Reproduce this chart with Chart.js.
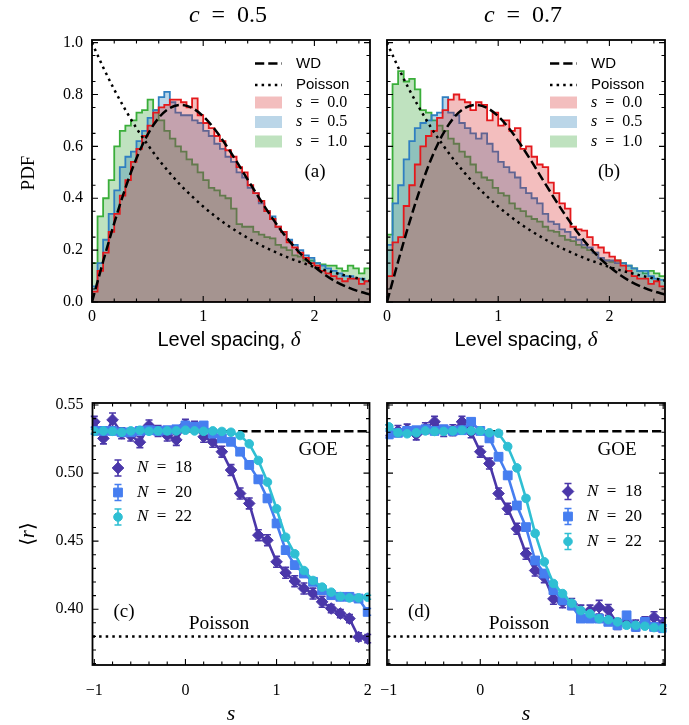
<!DOCTYPE html>
<html>
<head>
<meta charset="utf-8">
<script src="https://cdn.jsdelivr.net/npm/chart.js@4.4.1/dist/chart.umd.min.js"></script>
<style>
  html, body { margin: 0; padding: 0; background: #fff; }
  #wrap { position: relative; width: 689px; height: 725px; overflow: hidden; background: #fff; }
  #wrap canvas { position: absolute; left: 0; top: 0; }
</style>
</head>
<body>
<div id="wrap">
  <canvas id="panelA" width="689" height="725"></canvas>
  <canvas id="panelB" width="689" height="725"></canvas>
  <canvas id="panelC" width="689" height="725"></canvas>
  <canvas id="panelD" width="689" height="725"></canvas>
</div>
<script>
// ---------- level-spacing histograms, bins of width 0.05 starting at 0 ----------
const BIN_WIDTH = 0.05;

// c = 0.5
const pdfC05S00 = [0.04,0.12,0.19,0.27,0.34,0.41,0.47,0.54,0.59,0.64,
                   0.68,0.73,0.75,0.76,0.78,0.78,0.77,0.75,0.785,0.72,
                   0.69,0.67,0.64,0.62,0.585,0.56,0.52,0.50,0.45,0.42,
                   0.39,0.35,0.32,0.29,0.27,0.23,0.21,0.19,0.17,0.15,
                   0.14,0.12,0.11,0.10,0.09,0.08,0.09,0.09,0.07,0.08];
const pdfC05S05 = [0.06,0.15,0.24,0.34,0.43,0.52,0.56,0.58,0.62,0.66,
                   0.71,0.74,0.79,0.81,0.77,0.73,0.72,0.72,0.70,0.69,
                   0.66,0.64,0.61,0.59,0.56,0.54,0.50,0.48,0.44,0.42,
                   0.38,0.35,0.33,0.29,0.27,0.24,0.22,0.20,0.18,0.17,
                   0.15,0.14,0.13,0.12,0.11,0.10,0.10,0.09,0.09,0.08];
const pdfC05S10 = [0.15,0.33,0.40,0.47,0.60,0.66,0.68,0.70,0.73,0.74,
                   0.78,0.74,0.70,0.66,0.63,0.60,0.58,0.55,0.53,0.50,
                   0.47,0.44,0.43,0.41,0.40,0.36,0.30,0.29,0.29,0.27,
                   0.26,0.25,0.245,0.22,0.21,0.20,0.18,0.175,0.16,0.16,
                   0.15,0.145,0.14,0.14,0.13,0.12,0.14,0.13,0.11,0.13];

// c = 0.7
const pdfC07S00 = [0.10,0.23,0.25,0.37,0.45,0.53,0.60,0.64,0.66,0.71,
                   0.74,0.78,0.80,0.78,0.77,0.74,0.77,0.76,0.70,0.73,
                   0.68,0.70,0.66,0.67,0.59,0.60,0.56,0.53,0.52,0.46,
                   0.42,0.38,0.36,0.29,0.28,0.275,0.25,0.22,0.21,0.19,
                   0.175,0.16,0.14,0.12,0.10,0.09,0.09,0.07,0.08,0.06];
const pdfC07S05 = [0.22,0.38,0.45,0.55,0.62,0.67,0.69,0.70,0.72,0.73,
                   0.79,0.73,0.72,0.69,0.67,0.65,0.63,0.65,0.61,0.58,
                   0.54,0.52,0.50,0.48,0.44,0.42,0.40,0.38,0.34,0.31,
                   0.30,0.28,0.27,0.25,0.24,0.22,0.21,0.19,0.17,0.16,
                   0.16,0.15,0.15,0.14,0.13,0.12,0.12,0.10,0.09,0.085];
const pdfC07S10 = [0.26,0.84,0.89,0.85,0.86,0.82,0.74,0.73,0.70,0.68,
                   0.66,0.63,0.61,0.58,0.56,0.53,0.50,0.48,0.47,0.44,
                   0.42,0.41,0.38,0.36,0.35,0.33,0.32,0.31,0.29,0.275,
                   0.27,0.255,0.24,0.235,0.22,0.21,0.20,0.19,0.17,0.16,
                   0.155,0.16,0.15,0.14,0.13,0.12,0.11,0.12,0.11,0.10];

// reference curves sampled along δ
const refDelta   = [0.0,0.1,0.2,0.3,0.4,0.5,0.6,0.7,0.8,0.9,1.0,1.1,1.2,1.3,1.4,1.5,1.6,1.7,1.8,1.9,2.0,2.1,2.2,2.3,2.4,2.5];
const wdPdf      = [0.000,0.156,0.304,0.439,0.554,0.645,0.710,0.748,0.760,0.748,0.716,0.668,0.608,0.542,0.472,0.403,0.337,0.276,0.222,0.175,0.136,0.103,0.077,0.057,0.041,0.029];
const poissonPdf = [1.000,0.905,0.819,0.741,0.670,0.607,0.549,0.497,0.449,0.407,0.368,0.333,0.301,0.273,0.247,0.223,0.202,0.183,0.165,0.150,0.135,0.122,0.111,0.100,0.091,0.082];

// ---------- mean gap ratio <r> versus s ----------
const sValues = [-1.0,-0.9,-0.8,-0.7,-0.6,-0.5,-0.4,-0.3,-0.2,-0.1,0.0,0.1,0.2,0.3,0.4,0.5,
                 0.6,0.7,0.8,0.9,1.0,1.1,1.2,1.3,1.4,1.5,1.6,1.7,1.8,1.9,2.0];

// c = 0.5
const rC05N18 = [0.5377,0.5255,0.5391,0.5293,0.5276,0.5227,0.5350,0.5310,0.5276,0.5244,0.5355,0.5340,0.5267,0.5230,0.5157,0.5022,
                 0.4850,0.4777,0.4544,0.4507,0.4348,0.4267,0.4206,0.4152,0.4115,0.4054,0.4005,0.3968,0.3931,0.3796,0.3784];
const rC05N20 = [0.5310,0.5310,0.5310,0.5300,0.5300,0.5310,0.5315,0.5310,0.5315,0.5322,0.5350,0.5340,0.5350,0.5290,0.5255,0.5230,
                 0.5157,0.5060,0.4954,0.4814,0.4630,0.4434,0.4324,0.4262,0.4201,0.4140,0.4103,0.4091,0.4091,0.4078,0.3980];
const rC05N22 = [0.5307,0.5310,0.5307,0.5300,0.5310,0.5315,0.5307,0.5310,0.5310,0.5310,0.5315,0.5310,0.5307,0.5310,0.5306,0.5300,
                 0.5276,0.5215,0.5093,0.4934,0.4738,0.4529,0.4407,0.4284,0.4211,0.4162,0.4125,0.4093,0.4083,0.4083,0.4088];
const errC05N18 = [0.004,0.004,0.005,0.004,0.004,0.004,0.004,0.004,0.004,0.004,0.004,0.004,0.004,0.004,0.004,0.004,
                   0.004,0.004,0.004,0.004,0.004,0.004,0.004,0.004,0.004,0.004,0.003,0.003,0.003,0.003,0.003];
const errC05N20 = [0.0025,0.0025,0.0025,0.0025,0.0025,0.0025,0.0025,0.0025,0.0025,0.0025,0.0025,0.0025,0.0025,0.0025,0.0025,0.0025,
                   0.0025,0.0025,0.0025,0.0025,0.0025,0.0025,0.0025,0.0025,0.0025,0.0025,0.0025,0.0025,0.0025,0.0025,0.0025];
const errC05N22 = [0.0015,0.0015,0.0015,0.0015,0.0015,0.0015,0.0015,0.0015,0.0015,0.0015,0.0015,0.0015,0.0015,0.0015,0.0015,0.0015,
                   0.0015,0.0015,0.0015,0.0015,0.0015,0.0015,0.0015,0.0015,0.0015,0.0015,0.0015,0.0015,0.0015,0.0015,0.0015];

// c = 0.7
const rC07N18 = [0.5315,0.5310,0.5320,0.5284,0.5330,0.5377,0.5310,0.5315,0.5377,0.5300,0.5157,0.5070,0.4850,0.4738,0.4591,0.4407,
                 0.4284,0.4235,0.4076,0.4051,0.4039,0.3990,0.3990,0.4015,0.3995,0.3892,0.3904,0.3880,0.3904,0.3941,0.3897];
const rC07N20 = [0.5284,0.5296,0.5310,0.5315,0.5322,0.5310,0.5322,0.5310,0.5315,0.5377,0.5310,0.5255,0.5120,0.4983,0.4762,0.4603,
                 0.4358,0.4262,0.4140,0.4066,0.4027,0.3931,0.3931,0.3931,0.3907,0.3882,0.3955,0.3870,0.3907,0.3870,0.3860];
const rC07N22 = [0.5340,0.5296,0.5289,0.5296,0.5310,0.5306,0.5306,0.5310,0.5315,0.5310,0.5310,0.5296,0.5293,0.5195,0.5038,0.4814,
                 0.4557,0.4348,0.4189,0.4115,0.4044,0.3990,0.3966,0.3930,0.3923,0.3907,0.3882,0.3882,0.3875,0.3865,0.3860];
const errC07N18 = [0.004,0.004,0.004,0.004,0.004,0.004,0.004,0.004,0.004,0.004,0.004,0.004,0.004,0.004,0.004,0.004,
                   0.004,0.004,0.004,0.004,0.004,0.004,0.004,0.005,0.004,0.004,0.004,0.004,0.004,0.004,0.004];
const errC07N20 = errC05N20;
const errC07N22 = errC05N22;

const goeRatio = 0.5307;
const poissonRatio = 0.380;

// ---------- axis ticks ----------
const deltaTicks = [0, 1, 2];
const pdfTicks   = [0.0, 0.2, 0.4, 0.6, 0.8, 1.0];
const sTicks     = [-1, 0, 1, 2];
const rTicks     = [0.40, 0.45, 0.50, 0.55];

// ---------- styling ----------
const W = 689, H = 725;
const Y_LABEL_BOX = 60, X_LABEL_BOX = 40;
const SERIF = '"Liberation Serif", "DejaVu Serif", serif';
const SANS  = '"Liberation Sans", "DejaVu Sans", sans-serif';
const RED_LINE = '#e4191c',  RED_FILL = 'rgba(214,39,40,0.30)';
const BLUE_LINE = '#2f7fc1', BLUE_FILL = 'rgba(31,119,180,0.30)';
const GREEN_LINE = '#3aae3a', GREEN_FILL = 'rgba(44,160,44,0.30)';
const N18_COLOR = '#4a37a9', N20_COLOR = '#467ef0', N22_COLOR = '#2fbfd3';
const DASH = [9.25, 4], DOT = [2.5, 4.1];

function range(a, b, step) {
  const out = [];
  for (let v = a; v <= b + 1e-9; v += step) out.push(Math.round(v * 1000) / 1000);
  return out;
}

// histogram outline: rises at δ = 0, steps at every bin edge, drops back at the last edge
function histPoints(values) {
  const pts = [{x: 0, y: 0}];
  values.forEach((v, i) => pts.push({x: i * BIN_WIDTH, y: v}));
  pts.push({x: values.length * BIN_WIDTH, y: 0});
  return pts;
}
function curvePoints(xs, ys) { return xs.map((x, i) => ({x, y: ys[i]})); }

// ---------- rich text helpers ----------
function fontStr(p, size) {
  return (p.it ? 'italic ' : '') + size + 'px ' + (p.sans ? SANS : SERIF);
}
function drawRich(ctx, parts, x, y, size, align) {
  ctx.save();
  ctx.textBaseline = 'middle';
  ctx.fillStyle = '#000';
  let total = 0;
  const widths = parts.map(p => { ctx.font = fontStr(p, p.size || size); const w = ctx.measureText(p.t).width; total += w; return w; });
  let cx = align === 'left' ? x : (align === 'right' ? x - total : x - total / 2);
  ctx.textAlign = 'left';
  parts.forEach((p, i) => { ctx.font = fontStr(p, p.size || size); ctx.fillText(p.t, cx, y); cx += widths[i]; });
  ctx.restore();
}
function drawRotated(ctx, parts, x, y, size) {
  ctx.save();
  ctx.translate(x, y);
  ctx.rotate(-Math.PI / 2);
  drawRich(ctx, parts, 0, 0, size, 'center');
  ctx.restore();
}

function drawMarker(ctx, style, x, y, r, color) {
  ctx.save();
  ctx.fillStyle = color; ctx.strokeStyle = color; ctx.lineWidth = 1;
  ctx.beginPath();
  if (style === 'rectRot') {
    ctx.moveTo(x, y - r); ctx.lineTo(x + r, y); ctx.lineTo(x, y + r); ctx.lineTo(x - r, y); ctx.closePath();
  } else if (style === 'rect') {
    const h = r * Math.SQRT1_2; ctx.rect(x - h, y - h, 2 * h, 2 * h);
  } else {
    ctx.arc(x, y, r, 0, Math.PI * 2);
  }
  ctx.fill(); ctx.stroke();
  ctx.restore();
}

// ---------- plugins ----------
const errorBarPlugin = {
  id: 'errorBars',
  beforeDatasetDraw(chart, args) {
    const ds = chart.data.datasets[args.index];
    if (!ds.errors) return;
    const {ctx} = chart, xs = chart.scales.x, ys = chart.scales.y;
    ctx.save();
    ctx.strokeStyle = ds.borderColor;
    ctx.lineWidth = 1.6;
    ctx.beginPath();
    ds.data.forEach((p, i) => {
      const e = ds.errors[i];
      const px = xs.getPixelForValue(p.x);
      const y1 = ys.getPixelForValue(p.y - e), y2 = ys.getPixelForValue(p.y + e);
      ctx.moveTo(px, y1); ctx.lineTo(px, y2);
      ctx.moveTo(px - 3.5, y1); ctx.lineTo(px + 3.5, y1);
      ctx.moveTo(px - 3.5, y2); ctx.lineTo(px + 3.5, y2);
    });
    ctx.stroke();
    ctx.restore();
  }
};

function framePlugin(tickCfg, decorate) {
  return {
    id: 'frame',
    afterDatasetsDraw(chart) {
      const {ctx, chartArea: a} = chart, xs = chart.scales.x, ys = chart.scales.y;
      ctx.save();
      ctx.strokeStyle = '#000';
      ctx.lineWidth = 1.1;
      ctx.beginPath();
      [[tickCfg.xMajor, 6], [tickCfg.xMinor, 3.5]].forEach(([vals, len]) => vals.forEach(v => {
        const px = xs.getPixelForValue(v);
        ctx.moveTo(px, a.bottom); ctx.lineTo(px, a.bottom - len);
        ctx.moveTo(px, a.top); ctx.lineTo(px, a.top + len);
      }));
      [[tickCfg.yMajor, 6], [tickCfg.yMinor, 3.5]].forEach(([vals, len]) => vals.forEach(v => {
        const py = ys.getPixelForValue(v);
        ctx.moveTo(a.left, py); ctx.lineTo(a.left + len, py);
        ctx.moveTo(a.right, py); ctx.lineTo(a.right - len, py);
      }));
      ctx.stroke();
      ctx.lineWidth = 1.8;
      ctx.strokeRect(a.left, a.top, a.right - a.left, a.bottom - a.top);
      ctx.restore();
      decorate(ctx, chart);
    }
  };
}

function makePanel(id, area, cfg) {
  const yBox = cfg.y.labels ? Y_LABEL_BOX : 0;
  return new Chart(document.getElementById(id), {
    type: 'line',
    data: {datasets: cfg.datasets},
    options: {
      responsive: false,
      animation: false,
      devicePixelRatio: 1,
      events: [],
      layout: {padding: {left: area.left - yBox, top: area.top, right: W - area.right, bottom: H - area.bottom - X_LABEL_BOX}},
      plugins: {legend: {display: false}, tooltip: {enabled: false}, title: {display: false}},
      elements: {point: {radius: 0}},
      scales: {
        x: {
          type: 'linear', min: cfg.x.min, max: cfg.x.max,
          grid: {display: false, drawTicks: false}, border: {display: false},
          afterFit(s) { s.height = X_LABEL_BOX; },
          afterBuildTicks(s) { s.ticks = cfg.x.ticks.map(v => ({value: v})); },
          ticks: {padding: cfg.x.pad, color: '#000', maxRotation: 0, autoSkip: false,
                  font: {family: SERIF, size: 16}, callback: cfg.x.fmt}
        },
        y: {
          type: 'linear', min: cfg.y.min, max: cfg.y.max,
          grid: {display: false, drawTicks: false}, border: {display: false},
          afterFit(s) { s.width = yBox; },
          afterBuildTicks(s) { s.ticks = cfg.y.ticks.map(v => ({value: v})); },
          ticks: {display: cfg.y.labels, padding: 9, color: '#000', autoSkip: false,
                  font: {family: SERIF, size: 16}, callback: cfg.y.fmt}
        }
      }
    },
    plugins: [errorBarPlugin, framePlugin(cfg.tickCfg, cfg.decorate)]
  });
}

const fmtSigned = v => (v < 0 ? '\u2212' + Math.abs(v) : String(v));

// ---------- histogram panels ----------
function histDatasets(s00, s05, s10) {
  return [
    {data: curvePoints(refDelta, wdPdf), borderColor: '#000', borderWidth: 2.5, borderDash: DASH,
     cubicInterpolationMode: 'monotone', fill: false},
    {data: curvePoints(refDelta, poissonPdf), borderColor: '#000', borderWidth: 2.5, borderDash: DOT,
     cubicInterpolationMode: 'monotone', fill: false},
    {data: histPoints(s00), stepped: 'before', borderColor: RED_LINE, backgroundColor: RED_FILL, borderWidth: 1.8, fill: 'origin'},
    {data: histPoints(s05), stepped: 'before', borderColor: BLUE_LINE, backgroundColor: BLUE_FILL, borderWidth: 1.8, fill: 'origin'},
    {data: histPoints(s10), stepped: 'before', borderColor: GREEN_LINE, backgroundColor: GREEN_FILL, borderWidth: 1.8, fill: 'origin'},
    {data: [{x: 0, y: 0}, {x: 2.5, y: 0}], borderColor: RED_LINE, borderWidth: 1.8, fill: false}
  ];
}

function histLegend(ctx, x0) {
  const sx = x0, ex = x0 + 27, tx = x0 + 41;
  ctx.save();
  ctx.strokeStyle = '#000'; ctx.lineWidth = 2.5;
  ctx.setLineDash(DASH); ctx.beginPath(); ctx.moveTo(sx, 63.5); ctx.lineTo(ex, 63.5); ctx.stroke();
  ctx.setLineDash(DOT);  ctx.beginPath(); ctx.moveTo(sx, 85); ctx.lineTo(ex, 85); ctx.stroke();
  ctx.setLineDash([]);
  [[RED_FILL, 102.5], [BLUE_FILL, 122], [GREEN_FILL, 141.5]].forEach(([c, y]) => {
    ctx.fillStyle = c; ctx.fillRect(sx, y - 6, ex - sx, 12);
  });
  ctx.restore();
  drawRich(ctx, [{t: 'WD', sans: true}], tx, 63.5, 15, 'left');
  drawRich(ctx, [{t: 'Poisson', sans: true}], tx, 85, 15, 'left');
  [['0.0', 102.5], ['0.5', 122], ['1.0', 141.5]].forEach(([v, y]) => {
    drawRich(ctx, [{t: 's', it: true}, {t: '\u2002=\u2002' + v}], tx, y, 16, 'left');
  });
}

const histTicks = {
  xMajor: deltaTicks, xMinor: range(0, 2.4, 0.2).filter(v => !deltaTicks.includes(v)),
  yMajor: pdfTicks, yMinor: range(0.05, 0.95, 0.1)
};

makePanel('panelA', {left: 92, top: 40, right: 370, bottom: 302}, {
  datasets: histDatasets(pdfC05S00, pdfC05S05, pdfC05S10),
  x: {min: 0, max: 2.5, ticks: deltaTicks, pad: 5, fmt: v => String(v)},
  y: {min: 0, max: 1.01, ticks: pdfTicks, labels: true, fmt: v => v.toFixed(1)},
  tickCfg: histTicks,
  decorate(ctx) {
    drawRich(ctx, [{t: 'c', it: true}, {t: '\u2002=\u20020.5'}], 228, 16, 24, 'center');
    drawRotated(ctx, [{t: 'PDF'}], 29, 173, 19);
    drawRich(ctx, [{t: 'Level spacing, ', sans: true}, {t: '\u03b4', it: true, size: 21}], 229, 340, 20, 'center');
    histLegend(ctx, 255);
    drawRich(ctx, [{t: '(a)'}], 315, 172, 19, 'center');
  }
});

makePanel('panelB', {left: 387, top: 40, right: 665, bottom: 302}, {
  datasets: histDatasets(pdfC07S00, pdfC07S05, pdfC07S10),
  x: {min: 0, max: 2.5, ticks: deltaTicks, pad: 5, fmt: v => String(v)},
  y: {min: 0, max: 1.01, ticks: pdfTicks, labels: false, fmt: v => v.toFixed(1)},
  tickCfg: histTicks,
  decorate(ctx) {
    drawRich(ctx, [{t: 'c', it: true}, {t: '\u2002=\u20020.7'}], 523, 16, 24, 'center');
    drawRich(ctx, [{t: 'Level spacing, ', sans: true}, {t: '\u03b4', it: true, size: 21}], 526, 340, 20, 'center');
    histLegend(ctx, 550);
    drawRich(ctx, [{t: '(b)'}], 609, 172, 19, 'center');
  }
});

// ---------- gap-ratio panels ----------
const S_MIN = -1.02, S_MAX = 2.02;
const MARKERS = {n18: ['rectRot', 5.8], n20: ['rect', 6.2], n22: ['circle', 4.3]};
function ratioDatasets(r18, r20, r22, e18, e20, e22) {
  const series = (r, e, color, [style, rad]) => ({
    data: curvePoints(sValues, r), errors: e, borderColor: color, backgroundColor: color,
    borderWidth: 2.6, pointStyle: style, pointRadius: rad, pointBorderWidth: 1, fill: false
  });
  return [
    series(r22, e22, N22_COLOR, MARKERS.n22),
    series(r20, e20, N20_COLOR, MARKERS.n20),
    series(r18, e18, N18_COLOR, MARKERS.n18),
    {data: [{x: S_MIN, y: goeRatio}, {x: S_MAX, y: goeRatio}], borderColor: '#000', borderWidth: 2.5, borderDash: DASH, fill: false},
    {data: [{x: S_MIN, y: poissonRatio}, {x: S_MAX, y: poissonRatio}], borderColor: '#000', borderWidth: 2.5, borderDash: DOT, fill: false}
  ];
}

function ratioLegend(ctx, mx, y0, dy) {
  [[N18_COLOR, MARKERS.n18, '18'], [N20_COLOR, MARKERS.n20, '20'], [N22_COLOR, MARKERS.n22, '22']].forEach(([c, [st, r], n], i) => {
    const y = y0 + i * dy;
    ctx.save();
    ctx.strokeStyle = c; ctx.lineWidth = 1.6;
    ctx.beginPath();
    ctx.moveTo(mx, y - 8); ctx.lineTo(mx, y + 8);
    ctx.moveTo(mx - 3.5, y - 8); ctx.lineTo(mx + 3.5, y - 8);
    ctx.moveTo(mx - 3.5, y + 8); ctx.lineTo(mx + 3.5, y + 8);
    ctx.stroke();
    ctx.restore();
    drawMarker(ctx, st, mx, y, r, c);
    drawRich(ctx, [{t: 'N', it: true}, {t: '\u2002=\u2002' + n}], mx + 19, y, 17, 'left');
  });
}

const ratioTicks = {
  xMajor: sTicks, xMinor: range(-0.8, 1.8, 0.2).filter(v => Math.abs(v - Math.round(v)) > 1e-6),
  yMajor: rTicks, yMinor: range(0.36, 0.55, 0.01).filter(v => !rTicks.some(t => Math.abs(t - v) < 1e-6))
};

makePanel('panelC', {left: 92.5, top: 403, right: 369.5, bottom: 665}, {
  datasets: ratioDatasets(rC05N18, rC05N20, rC05N22, errC05N18, errC05N20, errC05N22),
  x: {min: S_MIN, max: S_MAX, ticks: sTicks, pad: 16, fmt: fmtSigned},
  y: {min: 0.359, max: 0.5515, ticks: rTicks, labels: true, fmt: v => v.toFixed(2)},
  tickCfg: ratioTicks,
  decorate(ctx) {
    drawRotated(ctx, [{t: '\u27e8'}, {t: 'r', it: true}, {t: '\u27e9'}], 29, 534, 20);
    drawRich(ctx, [{t: 's', it: true}], 231, 714, 22, 'center');
    drawRich(ctx, [{t: 'GOE'}], 318, 450, 19, 'center');
    drawRich(ctx, [{t: 'Poisson'}], 219, 624, 19.5, 'center');
    drawRich(ctx, [{t: '(c)'}], 124, 612, 19, 'center');
    ratioLegend(ctx, 118, 468, 24.5);
  }
});

makePanel('panelD', {left: 387, top: 403, right: 665, bottom: 665}, {
  datasets: ratioDatasets(rC07N18, rC07N20, rC07N22, errC07N18, errC07N20, errC07N22),
  x: {min: S_MIN, max: S_MAX, ticks: sTicks, pad: 16, fmt: fmtSigned},
  y: {min: 0.359, max: 0.5515, ticks: rTicks, labels: false, fmt: v => v.toFixed(2)},
  tickCfg: ratioTicks,
  decorate(ctx) {
    drawRich(ctx, [{t: 's', it: true}], 526, 714, 22, 'center');
    drawRich(ctx, [{t: 'GOE'}], 617, 450, 19, 'center');
    drawRich(ctx, [{t: 'Poisson'}], 519, 624, 19.5, 'center');
    drawRich(ctx, [{t: '(d)'}], 419, 612, 19, 'center');
    ratioLegend(ctx, 568, 491.5, 25);
  }
});
</script>
</body>
</html>
